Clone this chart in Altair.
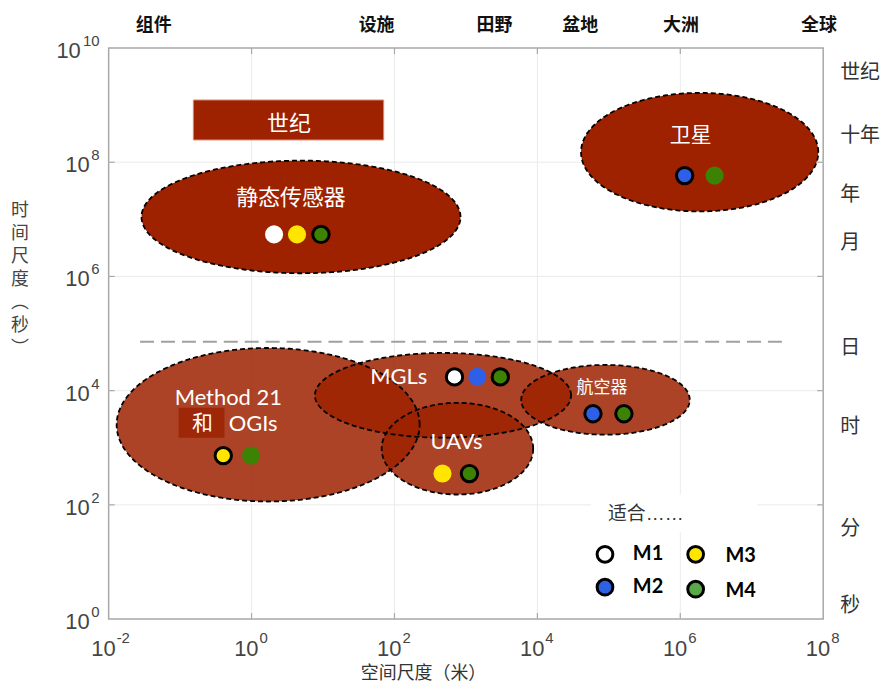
import altair as alt
import numpy as np
import pandas as pd

# ---------------- data (log10 units: x = metres, y = seconds) ----------------
ell_names = ["静态传感器区", "卫星区", "Method21区", "MGLs区", "UAVs区", "航空器区"]
ell_cx = [0.692, 6.271, 0.232, 2.679, 2.881, 4.953]
ell_cy = [7.042, 8.176, 3.403, 3.918, 2.984, 3.839]
ell_a = [2.232, 1.660, 2.120, 1.792, 1.060, 1.179]
ell_b = [0.986, 1.038, 1.344, 0.742, 0.803, 0.611]
ell_alpha = [1.0, 1.0, 0.85, 0.85, 0.85, 0.85]

label_text = ["静态传感器", "世纪", "卫星", "和", "航空器", "Method 21", "OGIs", "MGLs", "UAVs"]
label_lx = [0.552, 0.524, 6.145, -0.689, 4.904, -0.326, 0.022, 2.059, 2.868]
label_ly = [7.365, 8.674, 8.464, 3.421, 4.049, 3.874, 3.421, 4.241, 3.106]
label_fs = [22, 22, 21, 21, 17, 22, 22, 22, 22]
label_cjk = [True, True, True, True, True, False, False, False, False]

dot_lx = [0.315, 0.636, 0.971, 6.061, 6.480, -0.396, -0.006, 2.840, 3.160, 3.481, 2.672, 3.049, 4.778, 5.211]
dot_ly = [6.736, 6.736, 6.736, 7.766, 7.766, 2.862, 2.862, 4.241, 4.241, 4.241, 2.548, 2.548, 3.595, 3.595]
dot_method = ["M1", "M3", "M4", "M2", "M4", "M3", "M4", "M1", "M2", "M4", "M3", "M4", "M2", "M4"]
dot_outline = [False, False, True, True, False, True, False, True, False, True, False, True, True, True]

legend_methods = ["M1", "M2", "M3", "M4"]
legend_dot_lx = [4.946, 4.946, 6.215, 6.215]
legend_dot_ly = [1.134, 0.558, 1.134, 0.524]
legend_txt_lx = [5.336, 5.336, 6.633, 6.633]
legend_txt_ly = [1.134, 0.558, 1.099, 0.489]

top_labels = ["组件", "设施", "田野", "盆地", "大洲", "全球"]
top_log = [-1.37, 1.75, 3.40, 4.60, 6.01, 7.94]
right_labels = ["世纪", "十年", "年", "月", "日", "时", "分", "秒"]
right_log = [9.56, 8.46, 7.42, 6.58, 4.75, 3.37, 1.57, 0.23]

x_exp = [-2, 0, 2, 4, 6, 8]
y_exp = [0, 2, 4, 6, 8, 10]
x_grid_exp = [0, 2, 4, 6]
y_grid_exp = [2, 4, 6, 8]

century_box = {"x1": -0.815, "x2": 1.849, "y1": 8.39, "y2": 9.09}
he_box = {"x1": -1.02, "x2": -0.38, "y1": 3.176, "y2": 3.70}
legend_box = {"x1": 4.75, "x2": 7.08, "y1": 1.52, "y2": 2.18}
day_line = {"x1": -1.56, "x2": 7.47, "y": 4.857}

# ---------------- styling ----------------
RED = "#9E2200"
dot_fill = {"M1": "#FFFFFF", "M2": "#2F5FE6", "M3": "#FFE500", "M4": "#3C8204"}
leg_fill = {"M1": "#FFFFFF", "M2": "#2E60E4", "M3": "#FFE600", "M4": "#58A947"}
CJK = "Noto Sans CJK SC"
LAT = "Lato"
NUM = "Liberation Sans"
W, H = 717, 573

xs = alt.Scale(type="log", domain=[1e-2, 1e8], nice=False)
ys = alt.Scale(type="log", domain=[1, 1e10], nice=False)


def X(f):
    return alt.X(f, type="quantitative", scale=xs, axis=None)


def Y(f):
    return alt.Y(f, type="quantitative", scale=ys, axis=None)


def X2(f):
    return alt.X2(f)


def Y2(f):
    return alt.Y2(f)


# ellipse tables
area_rows, line_rows = [], []
for n, cx, cy, a, b, al in zip(ell_names, ell_cx, ell_cy, ell_a, ell_b, ell_alpha):
    for t in np.linspace(0, np.pi, 181):
        area_rows.append({"name": n, "x": 10 ** (cx + a * np.cos(t)),
                          "yt": 10 ** (cy + b * np.sin(t)), "yb": 10 ** (cy - b * np.sin(t)),
                          "alpha": al})
    for i, t in enumerate(np.linspace(0, 2 * np.pi, 361)):
        line_rows.append({"name": n, "i": i, "x": 10 ** (cx + a * np.cos(t)),
                          "y": 10 ** (cy + b * np.sin(t))})
area_df = pd.DataFrame(area_rows)
line_df = pd.DataFrame(line_rows)

# grid + ticks
xg = pd.DataFrame({"v": [10.0 ** e for e in x_grid_exp]})
yg = pd.DataFrame({"v": [10.0 ** e for e in y_grid_exp]})
grid_x = alt.Chart(xg).mark_rule(color="#ebebeb", strokeWidth=1).encode(x=X("v"))
grid_y = alt.Chart(yg).mark_rule(color="#ebebeb", strokeWidth=1).encode(y=Y("v"))
tick_col = "#a8a8a8"
tick_b = alt.Chart(xg).mark_rule(color=tick_col, strokeWidth=1.2).encode(
    x=X("v"), y=alt.value(H), y2=alt.value(H - 6))
tick_t = alt.Chart(xg).mark_rule(color=tick_col, strokeWidth=1.2).encode(
    x=X("v"), y=alt.value(0), y2=alt.value(6))
tick_l = alt.Chart(yg).mark_rule(color=tick_col, strokeWidth=1.2).encode(
    y=Y("v"), x=alt.value(0), x2=alt.value(6))
tick_r = alt.Chart(yg).mark_rule(color=tick_col, strokeWidth=1.2).encode(
    y=Y("v"), x=alt.value(W), x2=alt.value(W - 6))


def box_df(b):
    return pd.DataFrame({"x1": [10 ** b["x1"]], "x2": [10 ** b["x2"]],
                         "y1": [10 ** b["y1"]], "y2": [10 ** b["y2"]]})


legend_bg = alt.Chart(box_df(legend_box)).mark_rect(color="white").encode(
    x=X("x1"), x2=X2("x2"), y=Y("y1"), y2=Y2("y2"))

dline = alt.Chart(pd.DataFrame({"x1": [10 ** day_line["x1"]], "x2": [10 ** day_line["x2"]],
                                "y": [10 ** day_line["y"]]})).mark_rule(
    color="#a0a0a0", strokeWidth=2, strokeDash=[14, 7]).encode(x=X("x1"), x2=X2("x2"), y=Y("y"))

century = alt.Chart(box_df(century_box)).mark_rect(
    fill=RED, stroke="#d98a74", strokeWidth=1).encode(
    x=X("x1"), x2=X2("x2"), y=Y("y1"), y2=Y2("y2"))

areas = alt.Chart(area_df).mark_area(color=RED).encode(
    x=X("x"), y=Y("yt"), y2=Y2("yb"), detail="name:N",
    opacity=alt.Opacity("alpha:Q", scale=None))

outlines = alt.Chart(line_df).mark_line(
    color="black", strokeWidth=1.8, strokeDash=[5, 3]).encode(
    x=X("x"), y=Y("y"), detail="name:N", order="i:Q")

he = alt.Chart(box_df(he_box)).mark_rect(color="#9A2000", opacity=0.8).encode(
    x=X("x1"), x2=X2("x2"), y=Y("y1"), y2=Y2("y2"))

lab_df = pd.DataFrame({"t": label_text, "x": [10 ** v for v in label_lx],
                       "y": [10 ** v for v in label_ly], "fs": label_fs, "cjk": label_cjk})
lab_cjk = alt.Chart(lab_df[lab_df.cjk]).mark_text(
    font=CJK, color="white", baseline="middle", align="center").encode(
    x=X("x"), y=Y("y"), text="t:N", size=alt.Size("fs:Q", scale=None))
lab_lat = alt.Chart(lab_df[~lab_df.cjk]).mark_text(
    font=LAT, color="white", baseline="middle", align="center").encode(
    x=X("x"), y=Y("y"), text="t:N", size=alt.Size("fs:Q", scale=None))

dot_df = pd.DataFrame({
    "x": [10 ** v for v in dot_lx], "y": [10 ** v for v in dot_ly],
    "fill": [dot_fill[m] for m in dot_method],
    "stroke": ["black" if o else dot_fill[m] for m, o in zip(dot_method, dot_outline)],
    "sw": [3 if o else 0 for o in dot_outline],
    "size": [270 if o else 330 for o in dot_outline],
})
dots = alt.Chart(dot_df).mark_circle(opacity=1).encode(
    x=X("x"), y=Y("y"),
    fill=alt.Fill("fill:N", scale=None), stroke=alt.Stroke("stroke:N", scale=None),
    strokeWidth=alt.StrokeWidth("sw:Q", scale=None), size=alt.Size("size:Q", scale=None))

leg_df = pd.DataFrame({"m": legend_methods,
                       "x": [10 ** v for v in legend_dot_lx], "y": [10 ** v for v in legend_dot_ly],
                       "tx": [10 ** v for v in legend_txt_lx], "ty": [10 ** v for v in legend_txt_ly],
                       "fill": [leg_fill[m] for m in legend_methods]})
leg_dots = alt.Chart(leg_df).mark_circle(opacity=1, stroke="black", strokeWidth=3, size=250).encode(
    x=X("x"), y=Y("y"), fill=alt.Fill("fill:N", scale=None))
leg_txt = alt.Chart(leg_df).mark_text(
    font=LAT, fontWeight="bold", fontSize=20, color="black", align="left", baseline="middle").encode(
    x=X("tx"), y=Y("ty"), text="m:N")
leg_title = alt.Chart(pd.DataFrame({"x": [10 ** 5.517], "y": [10 ** 1.832], "t": ["适合……"]})).mark_text(
    font=NUM + ", " + CJK, fontSize=19, color="#333333", align="center", baseline="middle").encode(
    x=X("x"), y=Y("y"), text="t:N")

# axis tick labels (10 with superscript exponent)
xl_df = pd.DataFrame({"v": [10.0 ** e for e in x_exp], "e": [str(e) for e in x_exp]})
xl_base = alt.Chart(xl_df).mark_text(
    font=NUM, fontSize=22, color="#444444", align="right", baseline="middle", dx=7, text="10").encode(
    x=X("v"), y=alt.value(H + 30))
xl_exp = alt.Chart(xl_df).mark_text(
    font=NUM, fontSize=15, color="#444444", align="left", baseline="middle", dx=8).encode(
    x=X("v"), y=alt.value(H + 19), text="e:N")

yl_df = pd.DataFrame({"v": [10.0 ** e for e in y_exp], "e": [str(e) for e in y_exp],
                      "two": [len(str(e)) > 1 for e in y_exp]})
yl_base1 = alt.Chart(yl_df[~yl_df.two]).mark_text(
    font=NUM, fontSize=22, color="#444444", align="right", baseline="middle", dy=3, text="10").encode(
    y=Y("v"), x=alt.value(-19))
yl_base2 = alt.Chart(yl_df[yl_df.two]).mark_text(
    font=NUM, fontSize=22, color="#444444", align="right", baseline="middle", dy=3, text="10").encode(
    y=Y("v"), x=alt.value(-28))
yl_exp = alt.Chart(yl_df).mark_text(
    font=NUM, fontSize=15, color="#444444", align="right", baseline="middle", dy=-7).encode(
    y=Y("v"), x=alt.value(-9), text="e:N")

top_df = pd.DataFrame({"t": top_labels, "v": [10 ** v for v in top_log]})
top_txt = alt.Chart(top_df).mark_text(
    font=CJK, fontSize=18, fontWeight="bold", color="#111111", align="center", baseline="middle").encode(
    x=X("v"), y=alt.value(-22), text="t:N")

right_df = pd.DataFrame({"t": right_labels, "v": [10 ** v for v in right_log]})
right_txt = alt.Chart(right_df).mark_text(
    font=CJK, fontSize=20, color="#333333", align="left", baseline="middle").encode(
    y=Y("v"), x=alt.value(734), text="t:N")

one = pd.DataFrame({"a": [0]})
y_title = alt.Chart(one).mark_text(
    font=CJK, fontSize=18, color="#444444", align="center", baseline="top", lineHeight=23,
    text=["时", "间", "尺", "度", "︵", "秒", "︶"]).encode(x=alt.value(-89), y=alt.value(155))
x_title = alt.Chart(one).mark_text(
    font=CJK, fontSize=18, color="#333333", align="center", baseline="middle",
    text="空间尺度（米）").encode(x=alt.value(316), y=alt.value(628))

chart = alt.layer(
    grid_x, grid_y, tick_b, tick_t, tick_l, tick_r, legend_bg, dline, century,
    areas, outlines, he, lab_cjk, lab_lat, dots, leg_dots, leg_txt, leg_title,
    xl_base, xl_exp, yl_base1, yl_base2, yl_exp, top_txt, right_txt, y_title, x_title,
).properties(
    width=W, height=H,
    padding={"left": 101, "top": 39, "right": 60, "bottom": 64},
    autosize=alt.AutoSizeParams(type="none"),
).configure_view(stroke="#a8a8a8", strokeWidth=1.5)

chart.save("out.html", embed_options={"renderer": "svg", "actions": False})
